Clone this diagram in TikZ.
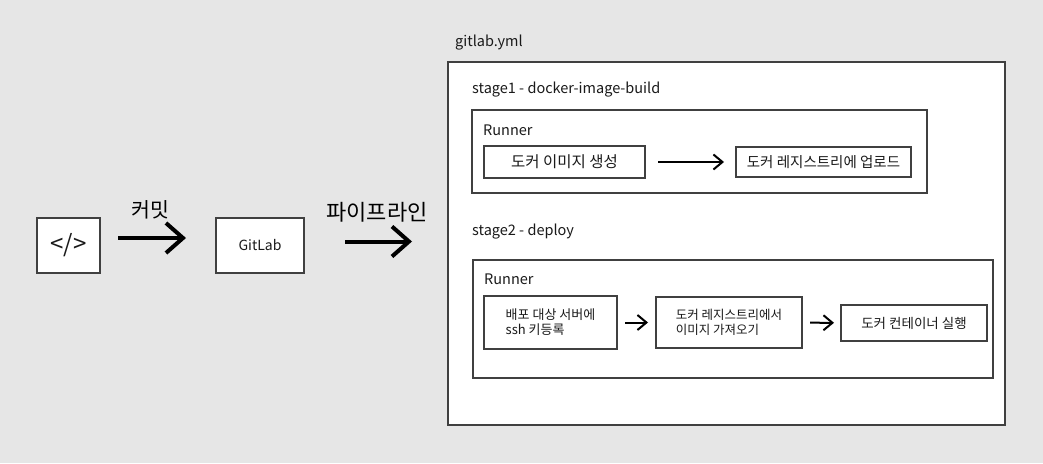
\documentclass[tikz,border=0pt]{standalone}
\usepackage{fontspec}
\setmainfont{Noto Sans CJK KR}
\usetikzlibrary{arrows.meta}
\definecolor{bggray}{HTML}{E6E6E6}
\definecolor{linegray}{HTML}{404040}
\definecolor{txt}{HTML}{1A1A1A}
\newcommand{\fsz}[1]{\fontsize{#1}{#1}\selectfont}
\newcommand{\fszb}[2]{\fontsize{#1}{#2}\selectfont}
\tikzset{
  box/.style={draw=linegray, line width=2pt, fill=white, inner sep=0pt, text=txt},
  lbl/.style={anchor=west, inner sep=0pt, text=txt, font=\fsz{14.5}},
  bigarrow/.style={line width=4pt, -{Straight Barb[length=17pt,width=30pt]}},
  smallarrow/.style={line width=2pt, -{Straight Barb[length=9pt,width=15pt]}},
}
\begin{document}
\begin{tikzpicture}[x=1pt,y=-1pt]
        \fill[bggray] (0,0) rectangle (1043,463);
        \useasboundingbox (0,0) rectangle (1043,463);
        % source and gitlab
        \node[box, minimum width=63pt, minimum height=55pt, font=\fsz{24}] (code)   at (68.5,245.5) {</>};
        \node[box, minimum width=88pt, minimum height=55pt, font=\fsz{14}] (gitlab) at (260,245.5) {GitLab};
        \node[inner sep=0pt, font=\fsz{20.5}] (commit)   at (150,210) {커밋};
        \node[inner sep=0pt, font=\fsz{22}] (pipeline) at (377,212) {파이프라인};
        % gitlab.yml
        \node[box, minimum width=557pt, minimum height=363pt] (yml) at (726.5,243.5) {};
        \node[lbl] (ymltitle) at (455,43) {gitlab.yml};
        \draw[bigarrow] ([xshift=17pt,yshift=7.5pt]code.east) -- ([xshift=-29pt,yshift=7.5pt]gitlab.west);
        \draw[bigarrow] ([xshift=40pt,yshift=4pt]gitlab.east) -- ([xshift=-35pt,yshift=2pt]yml.west);
        % stage1
        \node[lbl] (stage1) at (472,90) {stage1 - docker-image-build};
        \node[box, minimum width=455pt, minimum height=83pt] (runner1) at (699.5,151.5) {};
        \node[lbl] (runner1lbl) at (483,130) {Runner};
        \node[box, minimum width=161pt, minimum height=32pt, font=\fsz{15.5}] (build)  at (564.5,162) {도커 이미지 생성};
        \node[box, minimum width=175pt, minimum height=30pt, font=\fsz{14.5}] (upload) at (823.5,162) {도커 레지스트리에 업로드};
        \draw[smallarrow, shorten <=12pt, shorten >=11pt] (build) -- (upload);
        % stage2
        \node[lbl] (stage2) at (472,232) {stage2 - deploy};
        \node[box, minimum width=520pt, minimum height=118pt] (runner2) at (733,319) {};
        \node[lbl] (runner2lbl) at (484,279) {Runner};
        \node[box, minimum width=133pt, minimum height=53pt, align=left, font={\fszb{13}{15}}] (sshkey) at (550.5,322.5) {배포 대상 서버에\\ssh 키등록};
        \node[box, minimum width=146pt, minimum height=51pt, align=left, font={\fszb{12.5}{15}}] (pull)   at (729,322.5) {도커 레지스트리에서\\이미지 가져오기};
        \node[box, minimum width=146pt, minimum height=36pt, font=\fsz{13.5}] (run) at (914,323) {도커 컨테이너 실행};
        \draw[smallarrow, shorten <=7pt, shorten >=7pt] (sshkey) -- (pull);
        \draw[smallarrow, shorten <=7pt, shorten >=6pt] (pull) -- (run);
\end{tikzpicture}
\end{document}
